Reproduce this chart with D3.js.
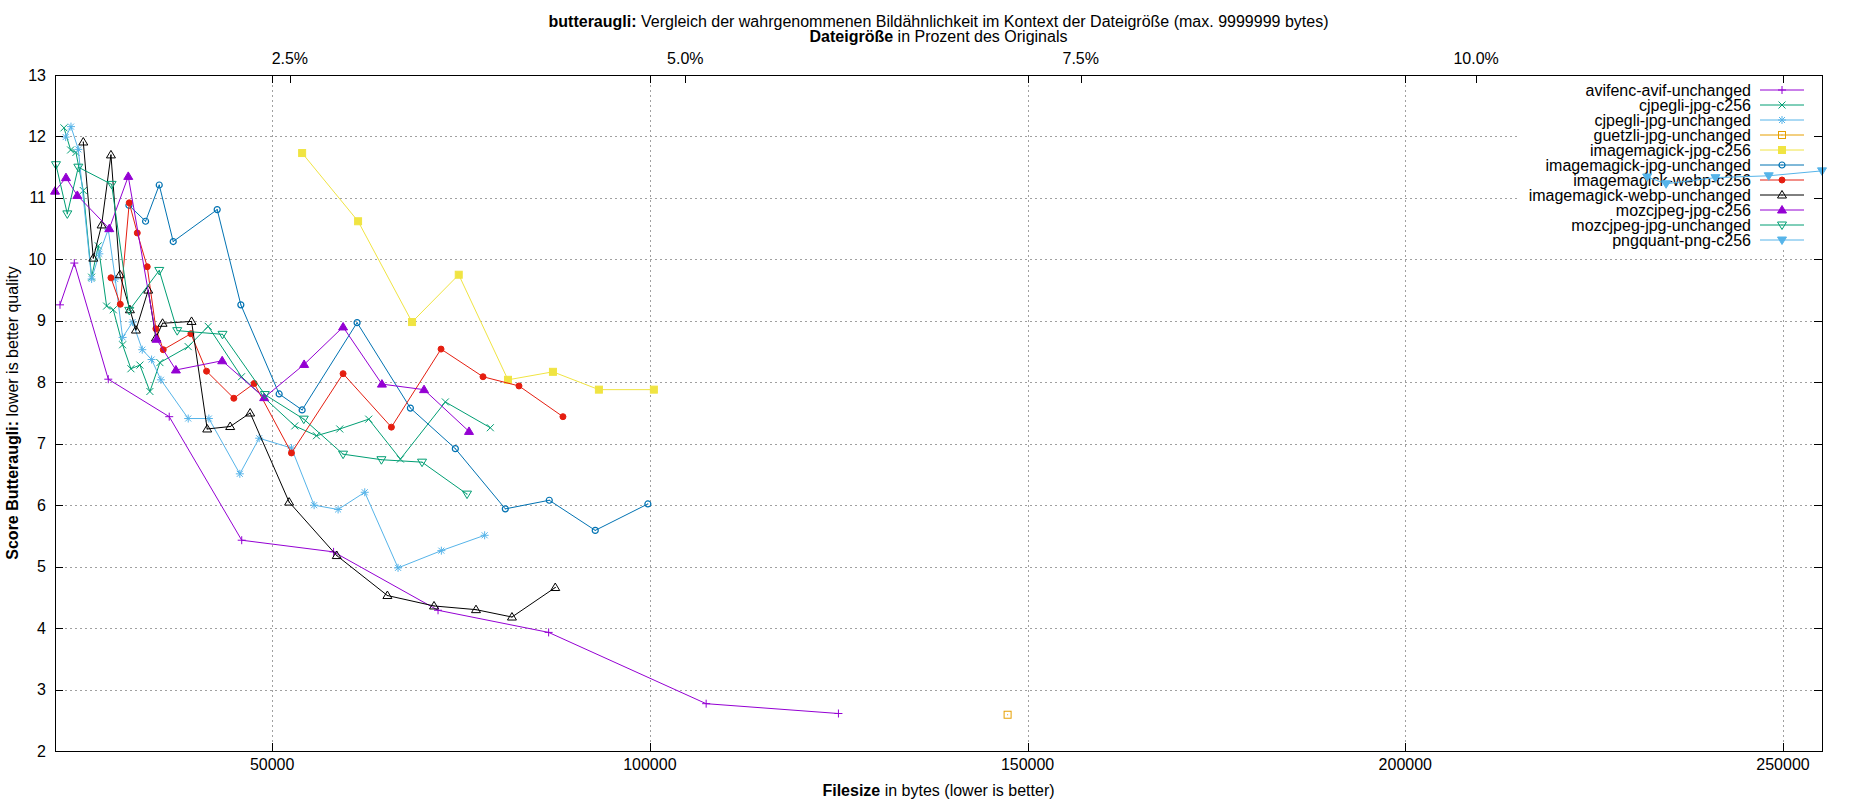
<!DOCTYPE html>
<html><head><meta charset="utf-8">
<script src="https://cdn.jsdelivr.net/npm/d3@7"></script>
<style>
body{margin:0;background:#fff}
text{font-family:"Liberation Sans",Arial,sans-serif;font-size:16px;fill:#000}
</style>
</head><body>
<svg id="chart" width="1850" height="800"></svg>
<script>
// ---------- data ----------
const seriesNames = ["avifenc-avif-unchanged","cjpegli-jpg-c256","cjpegli-jpg-unchanged","guetzli-jpg-unchanged",
  "imagemagick-jpg-c256","imagemagick-jpg-unchanged","imagemagick-webp-c256","imagemagick-webp-unchanged",
  "mozcjpeg-jpg-c256","mozcjpeg-jpg-unchanged","pngquant-png-c256"];
const seriesColors = ["#9400d3","#009e73","#56b4e9","#e69f00","#f0e442","#0072b2","#e51e10","#000000","#9400d3","#009e73","#56b4e9"];
const seriesMarkers = ["plus","cross","star","sqOpen","sqFill","circOpen","circFill","triOpen","triFill","invOpen","invFill"];

// [filesize in bytes, butteraugli score]
const avifencAvifUnchanged = [[21915,9.26],[23811,9.94],[28308,8.05],[36376,7.44],[45970,5.43],[58130,5.24],[71960,4.29],[86600,3.93],[107450,2.77],[124960,2.61]];
const cjpegliJpgC256 = [[22444,12.14],[23325,11.78],[24030,11.74],[25000,11.12],[26103,9.71],[26985,10.22],[28087,9.24],[28969,9.18],[30204,8.61],[31306,8.22],[32496,8.28],[33819,7.85],[35142,8.32],[38889,8.58],[41535,8.91],[45944,8.09],[52998,7.29],[55864,7.13],[58950,7.24],[62786,7.40],[66976,6.75],[72928,7.68],[78881,7.26]];
const cjpegliJpgUnchanged = [[22664,11.99],[23370,12.16],[24340,11.79],[26103,9.68],[27117,10.09],[28308,10.49],[29232,9.68],[30204,8.73],[31526,8.98],[32805,8.53],[34040,8.37],[35274,8.04],[38889,7.41],[41623,7.41],[45723,6.51],[48280,7.09],[52557,6.93],[55555,6.00],[58730,5.93],[62257,6.21],[66666,4.98],[72398,5.26],[78130,5.51]];
const guetzliJpgUnchanged = [[147355,2.59]];
const imagemagickJpgC256 = [[53968,11.73],[61375,10.62],[68520,8.98],[74700,9.75],[81217,8.04],[87170,8.17],[93254,7.88],[100529,7.88]];
const imagemagickJpgUnchanged = [[31041,10.88],[33246,10.62],[35054,11.21],[36905,10.29],[42725,10.81],[45856,9.26],[50926,7.81],[53968,7.55],[61243,8.97],[68300,7.58],[74250,6.92],[80866,5.94],[86685,6.08],[92770,5.59],[99735,6.02]];
const imagemagickWebpC256 = [[28661,9.70],[29896,9.27],[31085,10.92],[32143,10.43],[33466,9.88],[34612,8.87],[35583,8.53],[39242,8.79],[41314,8.18],[44929,7.74],[47619,7.98],[52557,6.85],[59391,8.14],[65786,7.27],[72356,8.54],[77910,8.09],[82673,7.94],[88493,7.44]];
const imagemagickWebpUnchanged = [[25000,11.91],[26324,10.02],[27426,10.56],[28661,11.70],[29852,9.75],[31174,9.18],[31967,8.85],[33598,9.50],[34612,8.72],[35495,8.96],[39331,8.99],[41402,7.24],[44444,7.28],[47090,7.50],[52249,6.05],[58550,5.18],[65255,4.53],[71428,4.36],[76983,4.30],[81745,4.18],[87477,4.66]];
const mozcjpegJpgC256 = [[21255,11.11],[22709,11.33],[24208,11.04],[28440,10.50],[30953,11.35],[34700,8.70],[37258,8.20],[43386,8.35],[48942,7.75],[54233,8.29],[59391,8.90],[64530,7.97],[70107,7.88],[76059,7.20]];
const mozcjpegJpgUnchanged = [[21385,11.54],[22885,10.74],[24340,11.50],[28749,11.22],[31085,9.17],[35054,9.82],[37435,8.84],[43430,8.78],[49030,7.80],[54189,7.40],[59391,6.83],[64463,6.74],[69842,6.70],[75794,6.18]];
const pngquantPngC256 = [[232011,11.34],[234524,11.23],[241058,11.33],[248108,11.36],[255160,11.44]];

const seriesData = [avifencAvifUnchanged,cjpegliJpgC256,cjpegliJpgUnchanged,guetzliJpgUnchanged,imagemagickJpgC256,
  imagemagickJpgUnchanged,imagemagickWebpC256,imagemagickWebpUnchanged,mozcjpegJpgC256,mozcjpegJpgUnchanged,pngquantPngC256];

const yTicks = [2,3,4,5,6,7,8,9,10,11,12,13];
const xTicks = [50000,100000,150000,200000,250000];
const x2Ticks = [2.5,5.0,7.5,10.0];
const originalSize = 2093800;

// ---------- layout ----------
const L = 55, R = 1822, T = 75, B = 751;
const svg = d3.select("#chart");
const allX = seriesData.flat().map(d => d[0]);
const x = d3.scaleLinear().domain(d3.extent(allX)).range([L, R]);
const y = d3.scaleLinear().domain([2, 13]).range([B, T]);
const x2 = d3.scaleLinear().domain(x.domain().map(v => v / originalSize * 100)).range([L, R]);

// grid
const grid = svg.append("g").attr("stroke", "#a0a0a0").attr("stroke-dasharray", "2,3").attr("shape-rendering", "crispEdges");
grid.selectAll("line.gy").data(yTicks.filter(v => v > 2 && v < 13)).join("line")
  .attr("x1", L).attr("x2", R).attr("y1", d => Math.round(y(d)) + 0.5).attr("y2", d => Math.round(y(d)) + 0.5);
grid.selectAll("line.gx").data(xTicks).join("line")
  .attr("y1", T).attr("y2", B).attr("x1", d => Math.round(x(d)) + 0.5).attr("x2", d => Math.round(x(d)) + 0.5);

// marker drawing
function marker(g, type, color) {
  const dot = () => g.append("rect").attr("x", -0.5).attr("y", -0.5).attr("width", 1).attr("height", 1).attr("fill", color);
  switch (type) {
    case "plus": g.append("path").attr("d", "M-4,0H4M0,-4V4").attr("stroke", color).attr("fill", "none"); break;
    case "cross": g.append("path").attr("d", "M-3.5,-3.5L3.5,3.5M-3.5,3.5L3.5,-3.5").attr("stroke", color).attr("fill", "none"); break;
    case "star": g.append("path").attr("d", "M-4,0H4M0,-4V4M-3,-3L3,3M-3,3L3,-3").attr("stroke", color).attr("fill", "none"); break;
    case "sqOpen": g.append("rect").attr("x", -3.5).attr("y", -3.5).attr("width", 7).attr("height", 7).attr("fill", "none").attr("stroke", color); dot(); break;
    case "sqFill": g.append("rect").attr("x", -3.5).attr("y", -3.5).attr("width", 7).attr("height", 7).attr("fill", color).attr("stroke", color); break;
    case "circOpen": g.append("circle").attr("r", 3).attr("fill", "none").attr("stroke", color).attr("stroke-width", 1.2); dot(); break;
    case "circFill": g.append("circle").attr("r", 3).attr("fill", color).attr("stroke", color); break;
    case "triOpen": g.append("path").attr("d", "M0,-4.5L4.5,3L-4.5,3Z").attr("fill", "none").attr("stroke", color); dot(); break;
    case "triFill": g.append("path").attr("d", "M0,-4.5L4.5,3L-4.5,3Z").attr("fill", color).attr("stroke", color); break;
    case "invOpen": g.append("path").attr("d", "M0,4.5L4.5,-3L-4.5,-3Z").attr("fill", "none").attr("stroke", color); dot(); break;
    case "invFill": g.append("path").attr("d", "M0,4.5L4.5,-3L-4.5,-3Z").attr("fill", color).attr("stroke", color); break;
  }
}

// legend (opaque box)
const legX = 1751, legY0 = 90, legDy = 15;
svg.append("rect").attr("x", 1517).attr("y", 83).attr("width", 296).attr("height", 165).attr("fill", "#fff");
const leg = svg.append("g");
seriesNames.forEach((n, i) => {
  const yy = legY0 + i * legDy;
  leg.append("text").attr("x", legX).attr("y", yy + 5.5).attr("text-anchor", "end").text(n);
  leg.append("line").attr("x1", 1760).attr("x2", 1804).attr("y1", yy).attr("y2", yy).attr("stroke", seriesColors[i]).attr("stroke-width", 1);
  marker(leg.append("g").attr("transform", `translate(1782,${yy})`), seriesMarkers[i], seriesColors[i]);
});

// series
const line = d3.line().x(d => x(d[0])).y(d => y(d[1]));
seriesData.forEach((data, i) => {
  const g = svg.append("g");
  g.append("path").attr("d", line(data)).attr("fill", "none").attr("stroke", seriesColors[i]).attr("stroke-width", 1);
  data.forEach(d => marker(g.append("g").attr("transform", `translate(${x(d[0])},${y(d[1])})`), seriesMarkers[i], seriesColors[i]));
});

// border + ticks
const ax = svg.append("g").attr("stroke", "#000").attr("shape-rendering", "crispEdges");
ax.append("rect").attr("x", L + 0.5).attr("y", T + 0.5).attr("width", R - L).attr("height", B - T).attr("fill", "none");
yTicks.forEach(v => {
  const yy = Math.round(y(v)) + 0.5;
  ax.append("line").attr("x1", L).attr("x2", L + 8).attr("y1", yy).attr("y2", yy);
  ax.append("line").attr("x1", R - 8).attr("x2", R).attr("y1", yy).attr("y2", yy);
});
xTicks.forEach(v => {
  const xx = Math.round(x(v)) + 0.5;
  ax.append("line").attr("x1", xx).attr("x2", xx).attr("y1", B - 8).attr("y2", B);
  ax.append("line").attr("x1", xx).attr("x2", xx).attr("y1", T).attr("y2", T + 8);
});
x2Ticks.forEach(v => {
  const xx = Math.round(x2(v)) + 0.5;
  ax.append("line").attr("x1", xx).attr("x2", xx).attr("y1", T).attr("y2", T + 8);
});

// tick labels
svg.append("g").selectAll("text").data(yTicks).join("text")
  .attr("x", 46).attr("y", d => y(d) + 5.5).attr("text-anchor", "end").text(d => d);
svg.append("g").selectAll("text").data(xTicks).join("text")
  .attr("x", d => x(d)).attr("y", 770).attr("text-anchor", "middle").text(d => d);
svg.append("g").selectAll("text").data(x2Ticks).join("text")
  .attr("x", d => x2(d)).attr("y", 64).attr("text-anchor", "middle").text(d => d.toFixed(1) + "%");

// titles
const cx = (L + R) / 2;
const t1 = svg.append("text").attr("x", cx).attr("y", 27).attr("text-anchor", "middle");
t1.append("tspan").attr("font-weight", "bold").text("butteraugli:");
t1.append("tspan").text(" Vergleich der wahrgenommenen Bildähnlichkeit im Kontext der Dateigröße (max. 9999999 bytes)");
const t2 = svg.append("text").attr("x", cx).attr("y", 42).attr("text-anchor", "middle");
t2.append("tspan").attr("font-weight", "bold").text("Dateigröße");
t2.append("tspan").text(" in Prozent des Originals");
const xl = svg.append("text").attr("x", cx).attr("y", 796).attr("text-anchor", "middle");
xl.append("tspan").attr("font-weight", "bold").text("Filesize");
xl.append("tspan").text(" in bytes (lower is better)");
const yl = svg.append("text").attr("transform", `translate(18,${(T + B) / 2}) rotate(-90)`).attr("text-anchor", "middle");
yl.append("tspan").attr("font-weight", "bold").text("Score Butteraugli:");
yl.append("tspan").text(" lower is better quality");
</script>
</body></html>
